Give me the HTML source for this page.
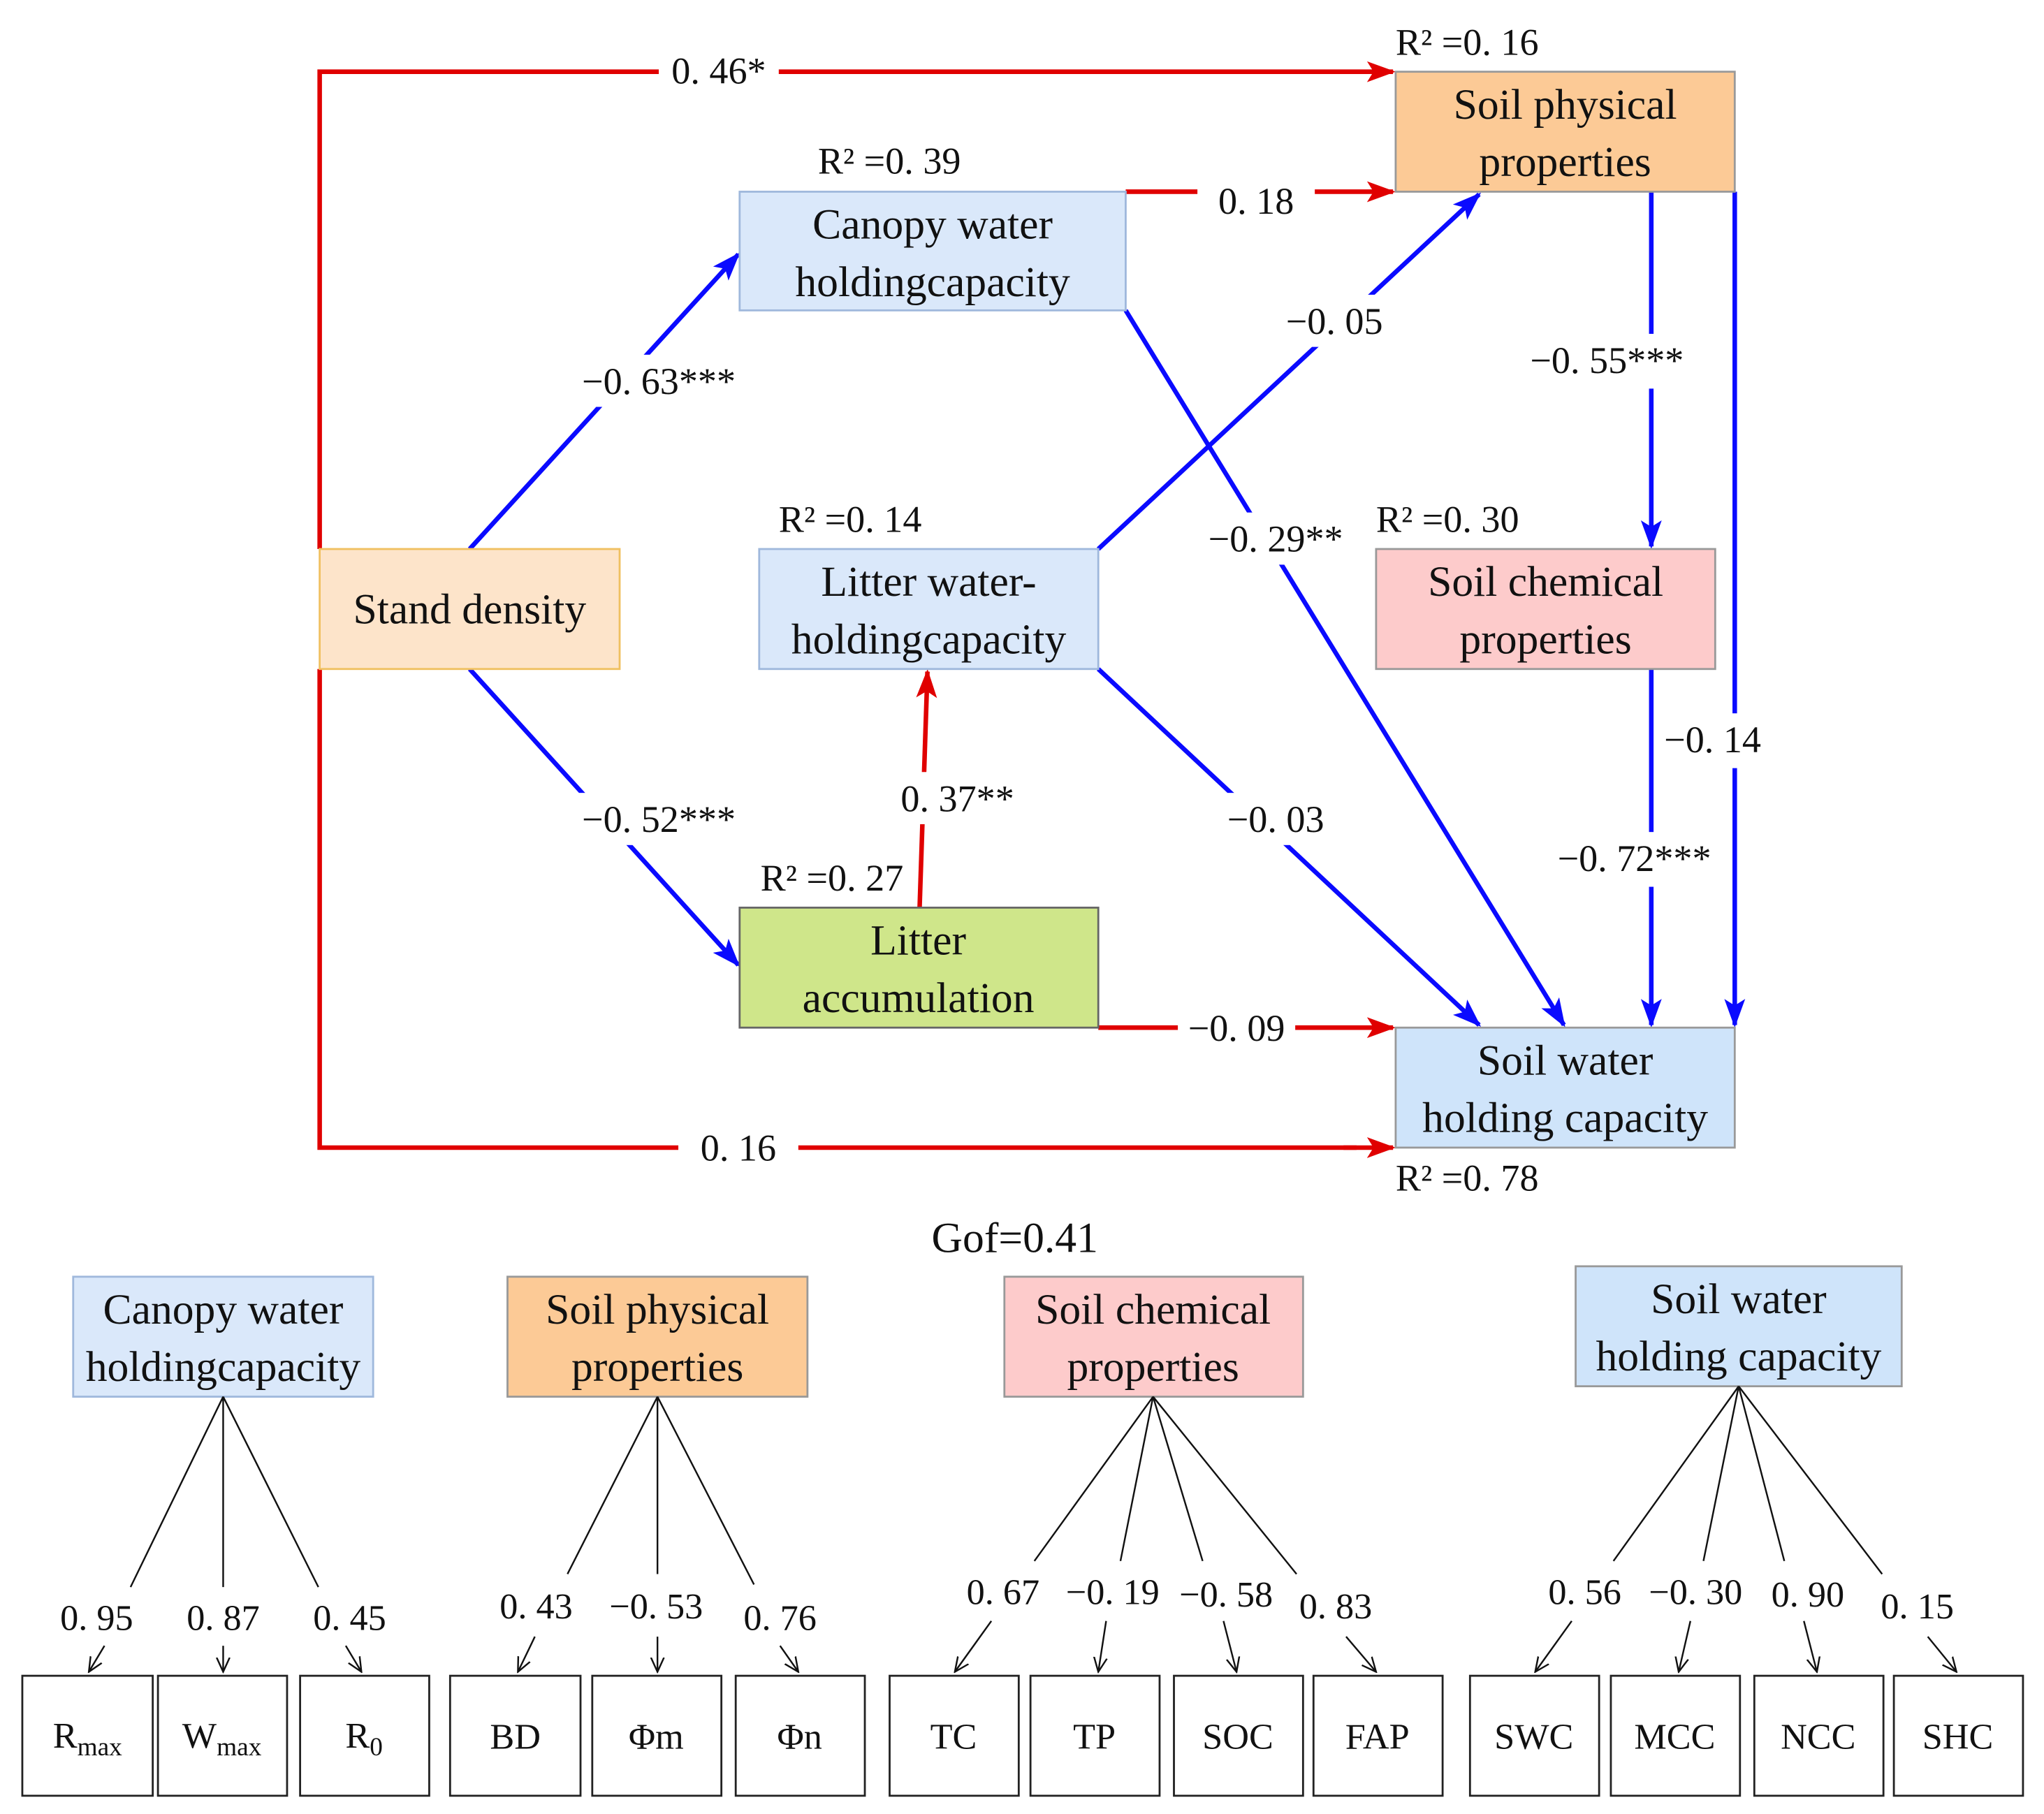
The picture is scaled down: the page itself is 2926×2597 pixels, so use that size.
<!DOCTYPE html>
<html><head><meta charset="utf-8"><style>
html,body{margin:0;padding:0;background:#fff}
svg{display:block}
text{font-family:"Liberation Serif",serif;fill:#111}
</style></head><body>
<svg width="2926" height="2597" viewBox="0 0 1567 1391" xmlns="http://www.w3.org/2000/svg">
<defs>
<marker id="ab" markerWidth="22" markerHeight="16" refX="20" refY="8" orient="auto" markerUnits="userSpaceOnUse" viewBox="0 0 22 16"><path d="M0,0 L22,8 L0,16 L5,8z" fill="#0a0aff"/></marker>
<marker id="ar" markerWidth="22" markerHeight="16" refX="20" refY="8" orient="auto" markerUnits="userSpaceOnUse" viewBox="0 0 22 16"><path d="M0,0 L22,8 L0,16 L5,8z" fill="#e00000"/></marker>
<marker id="ak" markerWidth="12" markerHeight="12" refX="11" refY="6" orient="auto" markerUnits="userSpaceOnUse"><path d="M0,1 L11,6 L0,11" fill="none" stroke="#111" stroke-width="1.3"/></marker>
</defs>
<style>
.b{stroke:#0a0aff;stroke-width:3.5;fill:none;marker-end:url(#ab)}
.r{stroke:#e00000;stroke-width:3.5;fill:none;marker-end:url(#ar)}
.rn{stroke:#e00000;stroke-width:3.5;fill:none}
.l{font-size:29px;text-anchor:middle}
.bt{font-size:33px;text-anchor:middle}
.rs{font-size:29px}
.k{stroke:#111;stroke-width:1.3;fill:none}
.ka{stroke:#111;stroke-width:1.3;fill:none;marker-end:url(#ak)}
.bx{fill:#fff;stroke:#222;stroke-width:1.5}
</style>
<path class="r" d="M245,421 V55 H1068"/>
<path class="rn" d="M245,513 V880 H1040"/>
<path class="r" d="M1030,880 H1068"/>
<path class="r" d="M863,147 H1068"/>
<path class="r" d="M842,788 H1068"/>
<path class="r" d="M705,696 L711,515"/>
<path class="b" d="M360,421 L566,195"/>
<path class="b" d="M360,513 L566,740"/>
<path class="b" d="M863,238 L1199,786"/>
<path class="b" d="M842,421 L1134,149"/>
<path class="b" d="M842,513 L1134,786"/>
<path class="b" d="M1266,147 V419"/>
<path class="b" d="M1266,513 V786"/>
<path class="b" d="M1330,147 V786"/>
<g>
<rect x="505" y="36" width="92" height="36" fill="#fff"/><text class="l" x="551" y="64">0. 46*</text>
<rect x="918" y="132" width="90" height="36" fill="#fff"/><text class="l" x="963" y="164">0. 18</text>
<rect x="432" y="272" width="145" height="40" fill="#fff"/><text class="l" x="505" y="302">−0. 63***</text>
<rect x="432" y="608" width="145" height="40" fill="#fff"/><text class="l" x="505" y="638">−0. 52***</text>
<rect x="520" y="862" width="92" height="36" fill="#fff"/><text class="l" x="566" y="890">0. 16</text>
<rect x="978" y="226" width="90" height="40" fill="#fff"/><text class="l" x="1023" y="256">−0. 05</text>
<rect x="915" y="393" width="125" height="40" fill="#fff"/><text class="l" x="978" y="423">−0. 29**</text>
<rect x="935" y="608" width="90" height="40" fill="#fff"/><text class="l" x="978" y="638">−0. 03</text>
<rect x="680" y="592" width="108" height="40" fill="#fff"/><text class="l" x="734" y="622">0. 37**</text>
<rect x="903" y="770" width="90" height="36" fill="#fff"/><text class="l" x="948" y="798">−0. 09</text>
<rect x="1160" y="256" width="144" height="42" fill="#fff"/><text class="l" x="1232" y="286">−0. 55***</text>
<rect x="1180" y="638" width="144" height="42" fill="#fff"/><text class="l" x="1253" y="668">−0. 72***</text>
<rect x="1268" y="547" width="90" height="42" fill="#fff"/><text class="l" x="1313" y="577">−0. 14</text>
</g>
<rect x="1070" y="55" width="260" height="92" fill="#fcca96" stroke="#999" stroke-width="1.5"/>
<text class="bt" x="1200" y="91">Soil physical</text><text class="bt" x="1200" y="135">properties</text>
<text class="rs" x="1070" y="42">R² =0. 16</text>
<rect x="567" y="147" width="296" height="91" fill="#dae8fa" stroke="#9fb8dc" stroke-width="1.5"/>
<text class="bt" x="715" y="183">Canopy water</text><text class="bt" x="715" y="227">holdingcapacity</text>
<text class="rs" x="627" y="133">R² =0. 39</text>
<rect x="245" y="421" width="230" height="92" fill="#fde4ca" stroke="#f0c060" stroke-width="1.5"/>
<text class="bt" x="360" y="478">Stand density</text>
<rect x="582" y="421" width="260" height="92" fill="#dae8fa" stroke="#9fb8dc" stroke-width="1.5"/>
<text class="bt" x="712" y="457">Litter water-</text><text class="bt" x="712" y="501">holdingcapacity</text>
<text class="rs" x="597" y="408">R² =0. 14</text>
<rect x="1055" y="421" width="260" height="92" fill="#fdcbcb" stroke="#999" stroke-width="1.5"/>
<text class="bt" x="1185" y="457">Soil chemical</text><text class="bt" x="1185" y="501">properties</text>
<text class="rs" x="1055" y="408">R² =0. 30</text>
<rect x="567" y="696" width="275" height="92" fill="#cfe68a" stroke="#666" stroke-width="1.5"/>
<text class="bt" x="704" y="732">Litter</text><text class="bt" x="704" y="776">accumulation</text>
<text class="rs" x="583" y="683">R² =0. 27</text>
<rect x="1070" y="788" width="260" height="92" fill="#cfe4fa" stroke="#999" stroke-width="1.5"/>
<text class="bt" x="1200" y="824">Soil water</text><text class="bt" x="1200" y="868">holding capacity</text>
<text class="rs" x="1070" y="913">R² =0. 78</text>
<text class="bt" x="778" y="960">Gof=0.41</text>
<rect x="56" y="979" width="230" height="92" fill="#dae8fa" stroke="#9fb8dc" stroke-width="1.5"/>
<text class="bt" x="171" y="1015">Canopy water</text><text class="bt" x="171" y="1059">holdingcapacity</text>
<rect x="389" y="979" width="230" height="92" fill="#fcca96" stroke="#999" stroke-width="1.5"/>
<text class="bt" x="504" y="1015">Soil physical</text><text class="bt" x="504" y="1059">properties</text>
<rect x="770" y="979" width="229" height="92" fill="#fdcbcb" stroke="#999" stroke-width="1.5"/>
<text class="bt" x="884" y="1015">Soil chemical</text><text class="bt" x="884" y="1059">properties</text>
<rect x="1208" y="971" width="250" height="92" fill="#cfe4fa" stroke="#999" stroke-width="1.5"/>
<text class="bt" x="1333" y="1007">Soil water</text><text class="bt" x="1333" y="1051">holding capacity</text>
<path class="k" d="M171,1071 L100,1217 M171,1071 L171,1217 M171,1071 L244,1217"/>
<path class="k" d="M504,1071 L435,1207 M504,1071 L504,1207 M504,1071 L578,1215"/>
<path class="k" d="M884,1071 L793,1197 M884,1071 L859,1197 M884,1071 L922,1197 M884,1071 L994,1207"/>
<path class="k" d="M1333,1063 L1237,1197 M1333,1063 L1306,1197 M1333,1063 L1368,1197 M1333,1063 L1443,1207"/>
<g class="l" style="font-size:28px">
<text x="74" y="1250">0. 95</text><text x="171" y="1250">0. 87</text><text x="268" y="1250">0. 45</text>
<text x="411" y="1241">0. 43</text><text x="503" y="1241">−0. 53</text><text x="598" y="1250">0. 76</text>
<text x="769" y="1230">0. 67</text><text x="853" y="1230">−0. 19</text><text x="940" y="1232">−0. 58</text><text x="1024" y="1241">0. 83</text>
<text x="1215" y="1230">0. 56</text><text x="1300" y="1230">−0. 30</text><text x="1386" y="1232">0. 90</text><text x="1470" y="1241">0. 15</text>
</g>
<path class="ka" d="M80,1262 L68,1282"/><path class="ka" d="M171,1262 L171,1282"/><path class="ka" d="M265,1262 L277,1282"/>
<path class="ka" d="M410,1255 L397,1282"/><path class="ka" d="M504,1255 L504,1282"/><path class="ka" d="M598,1262 L612,1282"/>
<path class="ka" d="M760,1243 L732,1282"/><path class="ka" d="M848,1243 L842,1282"/><path class="ka" d="M938,1243 L948,1282"/><path class="ka" d="M1032,1255 L1055,1282"/>
<path class="ka" d="M1205,1243 L1177,1282"/><path class="ka" d="M1296,1243 L1287,1282"/><path class="ka" d="M1383,1243 L1393,1282"/><path class="ka" d="M1478,1255 L1500,1282"/>
<g>
<rect class="bx" x="17" y="1285" width="100" height="92"/><rect class="bx" x="121" y="1285" width="99" height="92"/><rect class="bx" x="230" y="1285" width="99" height="92"/>
<rect class="bx" x="345" y="1285" width="100" height="92"/><rect class="bx" x="454" y="1285" width="99" height="92"/><rect class="bx" x="564" y="1285" width="99" height="92"/>
<rect class="bx" x="682" y="1285" width="99" height="92"/><rect class="bx" x="790" y="1285" width="99" height="92"/><rect class="bx" x="900" y="1285" width="99" height="92"/><rect class="bx" x="1007" y="1285" width="99" height="92"/>
<rect class="bx" x="1127" y="1285" width="99" height="92"/><rect class="bx" x="1235" y="1285" width="99" height="92"/><rect class="bx" x="1345" y="1285" width="99" height="92"/><rect class="bx" x="1452" y="1285" width="99" height="92"/>
</g>
<g class="l" style="font-size:28px">
<text x="67" y="1340">R<tspan font-size="20" dy="6">max</tspan></text>
<text x="170" y="1340">W<tspan font-size="20" dy="6">max</tspan></text>
<text x="279" y="1340">R<tspan font-size="20" dy="6">0</tspan></text>
<text x="395" y="1341">BD</text><text x="503" y="1341">Φm</text><text x="613" y="1341">Φn</text>
<text x="731" y="1341">TC</text><text x="839" y="1341">TP</text><text x="949" y="1341">SOC</text><text x="1056" y="1341">FAP</text>
<text x="1176" y="1341">SWC</text><text x="1284" y="1341">MCC</text><text x="1394" y="1341">NCC</text><text x="1501" y="1341">SHC</text>
</g>
</svg>
</body></html>
